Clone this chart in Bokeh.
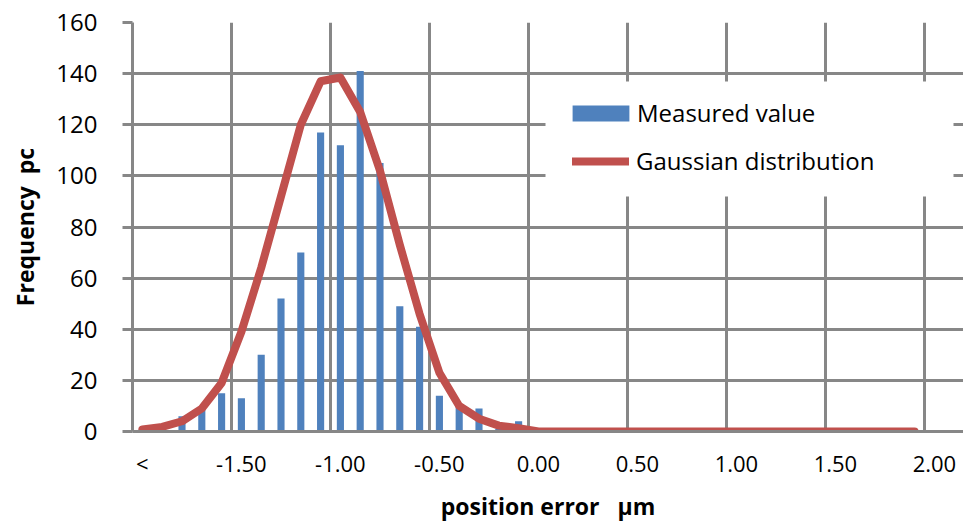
from bokeh.plotting import figure
from bokeh.models import FixedTicker, Range1d, Legend, LegendItem, ColumnDataSource, BoxAnnotation
from bokeh.embed import file_html
from bokeh.resources import INLINE

# ---- data ----
categories = ["<", "-1.90", "-1.80", "-1.70", "-1.60", "-1.50", "-1.40", "-1.30", "-1.20", "-1.10",
              "-1.00", "-0.90", "-0.80", "-0.70", "-0.60", "-0.50", "-0.40", "-0.30", "-0.20", "-0.10",
              "0.00", "0.10", "0.20", "0.30", "0.40", "0.50", "0.60", "0.70", "0.80", "0.90",
              "1.00", "1.10", "1.20", "1.30", "1.40", "1.50", "1.60", "1.70", "1.80", "1.90", "2.00"]
measured = [1, 2, 6, 9, 15, 13, 30, 52, 70, 117,
            112, 141, 105, 49, 41, 14, 10, 9, 1, 4,
            0, 0, 0, 0, 0, 0, 0, 0, 0, 0,
            0, 0, 0, 0, 0, 0, 0, 0, 0, 0, 0]
gaussian = [0.8, 1.8, 4, 9, 19, 39, 64, 92, 120, 137,
            138.5, 125, 102, 73, 46, 23, 10, 5, 2.3, 1.3,
            0, 0, 0, 0, 0, 0, 0, 0, 0, 0,
            0, 0, 0, 0, 0, 0, 0, 0, 0, 0]
x_tick_labels = ["<", "-1.50", "-1.00", "-0.50", "0.00", "0.50", "1.00", "1.50", "2.00"]
y_ticks = [0, 20, 40, 60, 80, 100, 120, 140, 160]

FONT = "Open Sans"
GRID = "#878787"
BLUE = "#4F81BD"
RED = "#C0504D"

idx = list(range(len(categories)))
tick_pos = [categories.index(l) for l in x_tick_labels]
bounds = [t - 0.5 for t in tick_pos]

p = figure(width=963, height=524, output_backend="svg", toolbar_location=None,
           x_range=Range1d(-0.5, 41.47), y_range=Range1d(0, 160),
           min_border_left=132, min_border_right=0, min_border_top=22, min_border_bottom=92)
p.outline_line_color = None
p.background_fill_color = "white"
p.border_fill_color = "white"

# grids
p.xgrid.ticker = FixedTicker(ticks=bounds)
p.xgrid.grid_line_color = GRID
p.xgrid.grid_line_width = 3
p.ygrid.ticker = FixedTicker(ticks=y_ticks)
p.ygrid.grid_line_color = GRID
p.ygrid.grid_line_width = 3

# x axis
xa = p.xaxis[0]
xa.ticker = FixedTicker(ticks=tick_pos)
xa.major_label_overrides = {t: l for t, l in zip(tick_pos, x_tick_labels)}
xa.major_tick_line_color = None
xa.minor_tick_line_color = None
xa.axis_line_color = GRID
xa.axis_line_width = 3
xa.major_label_text_font = FONT
xa.major_label_text_font_size = "22px"
xa.major_label_text_color = "black"
xa.major_label_standoff = 10
xa.axis_label = "position error\u00a0\u00a0\u00a0μm"
xa.axis_label_text_font = FONT
xa.axis_label_text_font_style = "bold"
xa.axis_label_text_font_size = "23px"
xa.axis_label_text_color = "black"
xa.axis_label_standoff = 9

# y axis
ya = p.yaxis[0]
ya.ticker = FixedTicker(ticks=y_ticks)
ya.major_tick_out = 10
ya.major_tick_in = 0
ya.major_tick_line_color = GRID
ya.major_tick_line_width = 3
ya.minor_tick_line_color = None
ya.axis_line_color = GRID
ya.axis_line_width = 3
ya.major_label_text_font = FONT
ya.major_label_text_font_size = "24px"
ya.major_label_text_color = "black"
ya.major_label_standoff = 25
ya.axis_label = "Frequency\u00a0\u00a0pc"
ya.axis_label_text_font = FONT
ya.axis_label_text_font_style = "bold"
ya.axis_label_text_font_size = "23px"
ya.axis_label_text_color = "black"
ya.axis_label_standoff = 12

bar_src = ColumnDataSource(dict(x=idx, top=measured))
bars = p.vbar(x="x", top="top", width=0.36, source=bar_src, fill_color=BLUE, line_color=None)
line_src = ColumnDataSource(dict(x=idx[:len(gaussian)], y=gaussian))
ln = p.line(x="x", y="y", source=line_src, line_color=RED, line_width=8,
            line_cap="round", line_join="round")

# white legend panel (screen units, relative to the plot frame, y upward)
panel = BoxAnnotation(left=413, right=821, top=350, bottom=235,
                      left_units="screen", right_units="screen",
                      top_units="screen", bottom_units="screen",
                      fill_color="white", fill_alpha=1.0, line_color=None)
p.add_layout(panel)

common = dict(orientation="vertical", label_height=33, margin=0, padding=0,
              label_text_font=FONT, label_text_font_size="24px", label_text_color="black",
              background_fill_color="white", background_fill_alpha=1.0, border_line_color=None)

leg_bar = Legend(items=[LegendItem(label="Measured value", renderers=[bars])],
                 location=(433, 302), glyph_width=71, glyph_height=20,
                 label_standoff=1, label_width=280, **common)
leg_line = Legend(items=[LegendItem(label="Gaussian distribution", renderers=[ln])],
                  location=(440, 254), glyph_width=57, glyph_height=16,
                  label_standoff=7, label_width=280, **common)
p.add_layout(leg_line, "center")
p.add_layout(leg_bar, "center")

open("out.html", "w").write(file_html(p, INLINE))
